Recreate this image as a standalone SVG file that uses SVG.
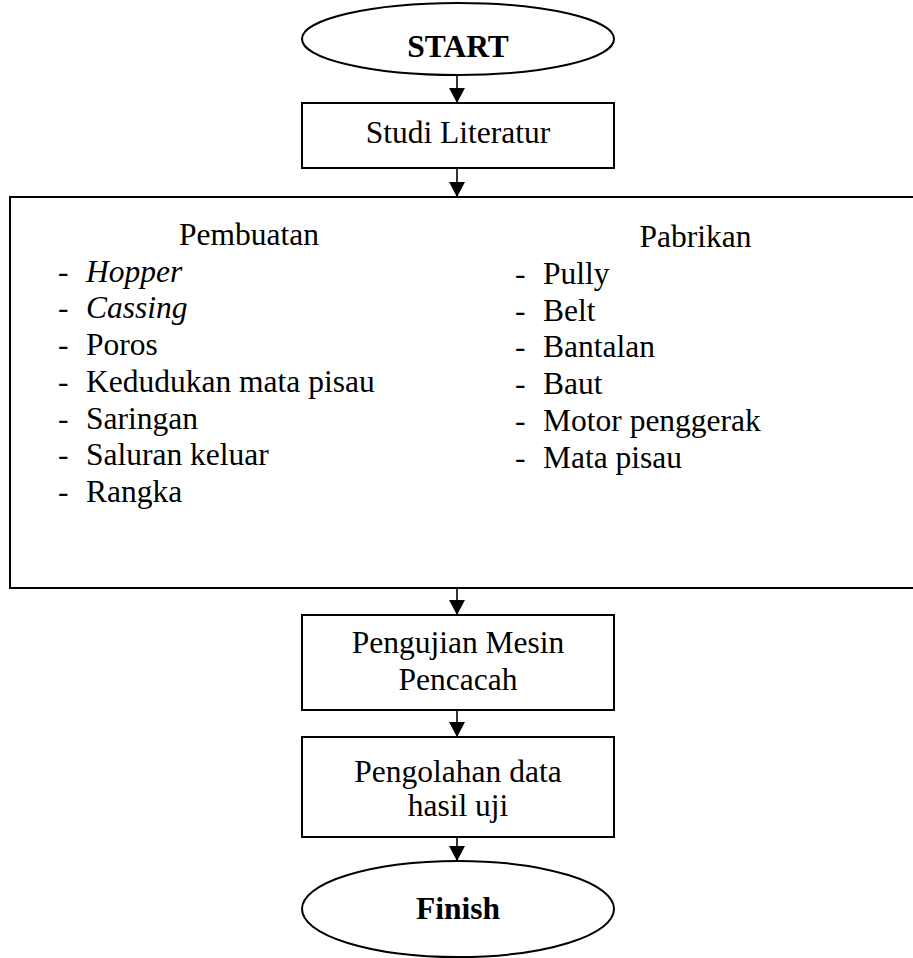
<svg xmlns="http://www.w3.org/2000/svg" width="913" height="958" viewBox="0 0 913 958">
<style>
.shape{fill:#fff;stroke:#000;stroke-width:2}
.t{font-family:"Liberation Serif","Times New Roman",serif;font-size:31.5px;fill:#000}
.c{text-anchor:middle}
.b{font-weight:bold}
.i{font-style:italic}
.conn{stroke:#000;stroke-width:1.6;fill:none;marker-end:url(#arr)}
</style>
<defs>
<marker id="arr" markerUnits="userSpaceOnUse" markerWidth="16" markerHeight="16" viewBox="0 0 16 16" refX="15" refY="8" orient="auto">
<path d="M0,0 L15,8 L0,16 Z" fill="#000"/>
</marker>
</defs>
<rect width="913" height="958" fill="#fff"/>
<g id="connectors">
<line class="conn" x1="457" y1="75" x2="457" y2="103"/>
<line class="conn" x1="457" y1="168" x2="457" y2="197"/>
<line class="conn" x1="457" y1="588" x2="457" y2="615"/>
<line class="conn" x1="457" y1="710" x2="457" y2="737"/>
<line class="conn" x1="457" y1="837" x2="457" y2="861"/>
</g>
<g id="start">
<ellipse class="shape" cx="458" cy="39" rx="156" ry="36"/>
<text class="t c b" x="458" y="57">START</text>
</g>
<g id="studi">
<rect class="shape" x="302" y="103" width="312" height="65"/>
<text class="t c" x="458" y="143">Studi Literatur</text>
</g>
<g id="komponen">
<rect class="shape" x="10" y="197" width="920" height="391"/>
<text class="t c" x="249" y="245">Pembuatan</text>
<text class="t" x="58" y="281.7">-</text><text class="t i" x="86" y="281.7">Hopper</text>
<text class="t" x="58" y="318.4">-</text><text class="t i" x="86" y="318.4">Cassing</text>
<text class="t" x="58" y="355.1">-</text><text class="t" x="86" y="355.1">Poros</text>
<text class="t" x="58" y="391.8">-</text><text class="t" x="86" y="391.8">Kedudukan mata pisau</text>
<text class="t" x="58" y="428.5">-</text><text class="t" x="86" y="428.5">Saringan</text>
<text class="t" x="58" y="465.2">-</text><text class="t" x="86" y="465.2">Saluran keluar</text>
<text class="t" x="58" y="501.9">-</text><text class="t" x="86" y="501.9">Rangka</text>
<text class="t c" x="695.5" y="247">Pabrikan</text>
<text class="t" x="515" y="284">-</text><text class="t" x="543" y="284">Pully</text>
<text class="t" x="515" y="320.7">-</text><text class="t" x="543" y="320.7">Belt</text>
<text class="t" x="515" y="357.4">-</text><text class="t" x="543" y="357.4">Bantalan</text>
<text class="t" x="515" y="394.1">-</text><text class="t" x="543" y="394.1">Baut</text>
<text class="t" x="515" y="430.8">-</text><text class="t" x="543" y="430.8">Motor penggerak</text>
<text class="t" x="515" y="467.5">-</text><text class="t" x="543" y="467.5">Mata pisau</text>
</g>
<g id="pengujian">
<rect class="shape" x="302" y="615" width="312" height="95"/>
<text class="t c" x="458" y="653">Pengujian Mesin</text>
<text class="t c" x="458" y="690">Pencacah</text>
</g>
<g id="pengolahan">
<rect class="shape" x="302" y="737" width="312" height="100"/>
<text class="t c" x="458" y="782">Pengolahan data</text>
<text class="t c" x="458" y="816">hasil uji</text>
</g>
<g id="finish">
<ellipse class="shape" cx="458" cy="909" rx="156" ry="48"/>
<text class="t c b" x="458" y="919">Finish</text>
</g>
</svg>
